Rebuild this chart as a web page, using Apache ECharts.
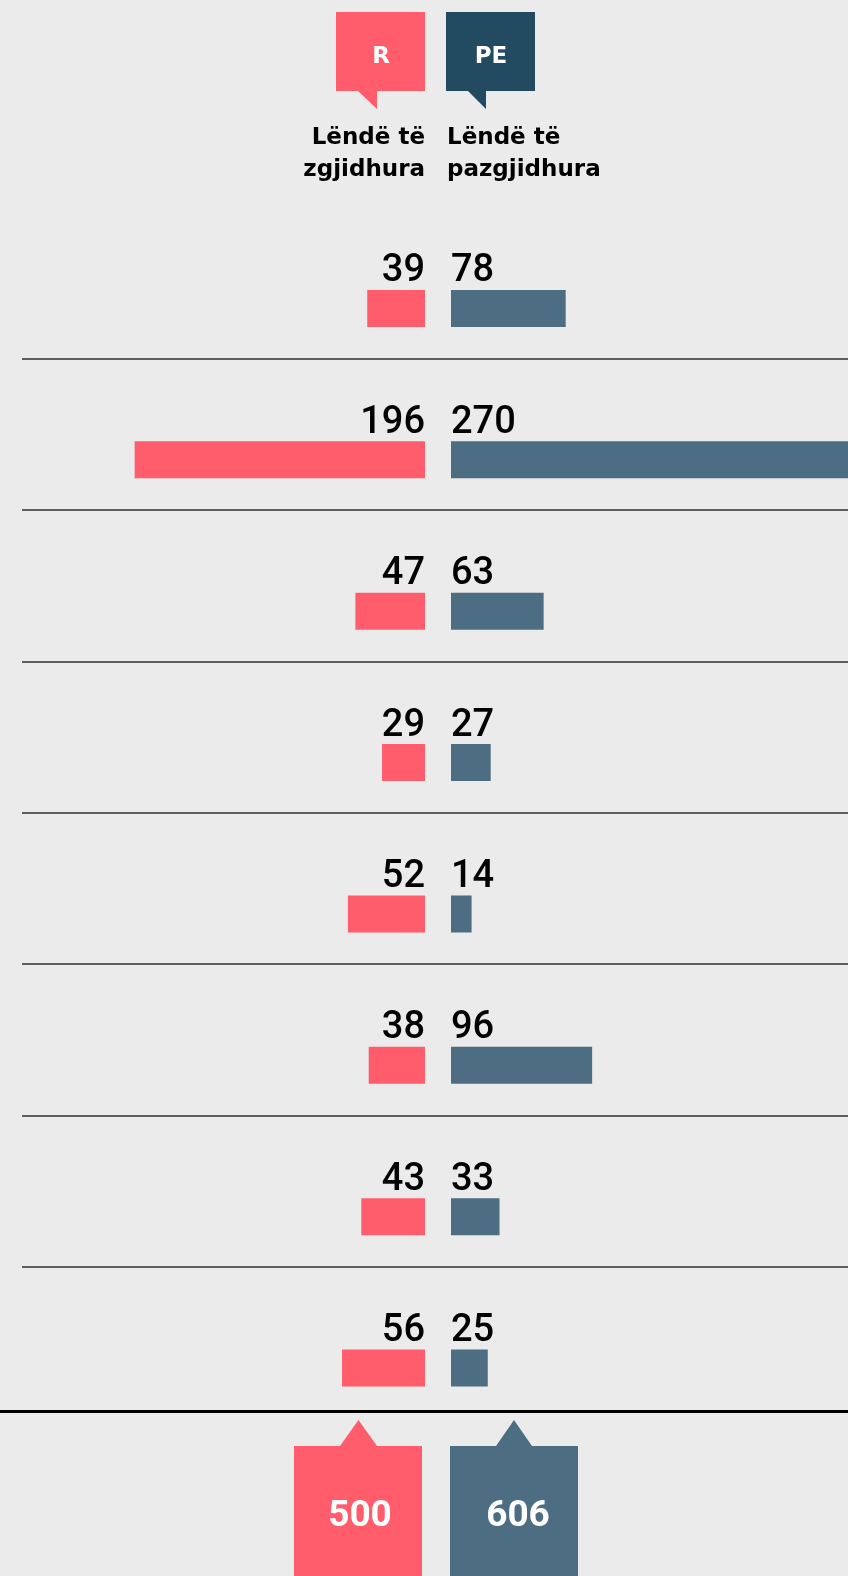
<!DOCTYPE html>
<html>
<head>
<meta charset="utf-8">
<title>Lëndë të zgjidhura / pazgjidhura</title>
<script src="https://cdn.jsdelivr.net/npm/echarts@6/dist/echarts.min.js"></script>
<style>
  html, body { margin: 0; padding: 0; background: #ebebeb; }
  #chart { width: 848px; height: 1576px; }
</style>
</head>
<body>
<div id="chart"></div>
<script>
// rreshtat nuk kanë emra në figurë
const rows = ['1', '2', '3', '4', '5', '6', '7', '8']
const solved = [39, 196, 47, 29, 52, 38, 43, 56]     // R
const unsolved = [78, 270, 63, 27, 14, 96, 33, 25]   // PE
const legendCodes = ['R', 'PE']
const legendNames = ['Lëndë të\nzgjidhura', 'Lëndë të\npazgjidhura']
const leftMax = 268
const rightMax = 270

const red = '#ff5c6c'
const blue = '#4d6e82'
const navy = '#224a60'
const headFont = '"DejaVu Sans"'
const numFont = 'Roboto'

const sum = arr => arr.reduce((a, b) => a + b, 0)

const rowTop = 207.3
const rowsHeight = 1211
const barShift = 25.5 // shiriti rri poshtë numrit, jo në mes të rreshtit

const chart = echarts.init(document.getElementById('chart'))

const numLabel = (position, align) => ({
  show: true,
  position: position,
  distance: 0,
  offset: [0, -18],
  align: align,
  verticalAlign: 'middle',
  fontFamily: numFont,
  fontWeight: 500,
  fontSize: 38,
  color: '#000'
})

const option = {
  backgroundColor: '#ebebeb',
  animation: false,
  grid: [
    { left: 28, width: 397, top: rowTop + barShift, height: rowsHeight },
    { left: 451, width: 397, top: rowTop + barShift, height: rowsHeight },
    // vetëm për vijat ndarëse
    { left: 22, right: 0, top: rowTop, height: rowsHeight }
  ],
  xAxis: [
    { type: 'value', gridIndex: 0, min: 0, max: leftMax, inverse: true, show: false },
    { type: 'value', gridIndex: 1, min: 0, max: rightMax, show: false },
    { type: 'value', gridIndex: 2, min: 0, max: 1, show: false }
  ],
  yAxis: [
    { type: 'category', gridIndex: 0, data: rows, inverse: true, show: false },
    { type: 'category', gridIndex: 1, data: rows, inverse: true, show: false },
    {
      type: 'category', gridIndex: 2, data: rows, inverse: true,
      axisLine: { show: false },
      axisTick: { show: false },
      axisLabel: { show: false },
      splitLine: {
        show: true,
        showMinLine: false,
        showMaxLine: false,
        lineStyle: { color: '#2e2e2e', width: 1.5 }
      }
    }
  ],
  series: [
    {
      name: legendCodes[0],
      type: 'bar',
      xAxisIndex: 0,
      yAxisIndex: 0,
      data: solved,
      barWidth: 37,
      itemStyle: { color: red },
      label: numLabel('insideTopRight', 'right')
    },
    {
      name: legendCodes[1],
      type: 'bar',
      xAxisIndex: 1,
      yAxisIndex: 1,
      data: unsolved,
      barWidth: 37,
      itemStyle: { color: blue },
      label: numLabel('insideTopLeft', 'left')
    }
  ],
  graphic: [
    // legjenda lart
    {
      type: 'polygon',
      shape: { points: [[336, 12], [425, 12], [425, 91], [377, 91], [377, 109], [358, 91], [336, 91]] },
      style: { fill: red }
    },
    {
      type: 'text', x: 381, y: 57,
      style: { text: legendCodes[0], fill: '#fff', font: `bold 23px ${headFont}`, align: 'center', verticalAlign: 'middle' }
    },
    {
      type: 'polygon',
      shape: { points: [[446, 12], [535, 12], [535, 91], [486, 91], [486, 109], [468, 91], [446, 91]] },
      style: { fill: navy }
    },
    {
      type: 'text', x: 491, y: 57,
      style: { text: legendCodes[1], fill: '#fff', font: `bold 23px ${headFont}`, align: 'center', verticalAlign: 'middle' }
    },
    {
      type: 'text', x: 425, y: 154,
      style: { text: legendNames[0], fill: '#000', font: `bold 23px ${headFont}`, lineHeight: 32, align: 'right', verticalAlign: 'middle' }
    },
    {
      type: 'text', x: 447, y: 154,
      style: { text: legendNames[1], fill: '#000', font: `bold 23px ${headFont}`, lineHeight: 32, align: 'left', verticalAlign: 'middle' }
    },
    // totali poshtë
    {
      type: 'line',
      shape: { x1: 0, y1: 1411.5, x2: 848, y2: 1411.5 },
      style: { stroke: '#000', lineWidth: 3 }
    },
    {
      type: 'polygon',
      shape: { points: [[294, 1446], [340, 1446], [358.5, 1420], [377, 1446], [422, 1446], [422, 1576], [294, 1576]] },
      style: { fill: red }
    },
    {
      type: 'text', x: 360, y: 1517,
      style: { text: String(sum(solved)), fill: '#fff', font: `bold 37px ${numFont}`, align: 'center', verticalAlign: 'middle' }
    },
    {
      type: 'polygon',
      shape: { points: [[450, 1446], [496, 1446], [514, 1420], [532, 1446], [578, 1446], [578, 1576], [450, 1576]] },
      style: { fill: blue }
    },
    {
      type: 'text', x: 518, y: 1517,
      style: { text: String(sum(unsolved)), fill: '#fff', font: `bold 37px ${numFont}`, align: 'center', verticalAlign: 'middle' }
    }
  ]
}

chart.setOption(option)
</script>
</body>
</html>
